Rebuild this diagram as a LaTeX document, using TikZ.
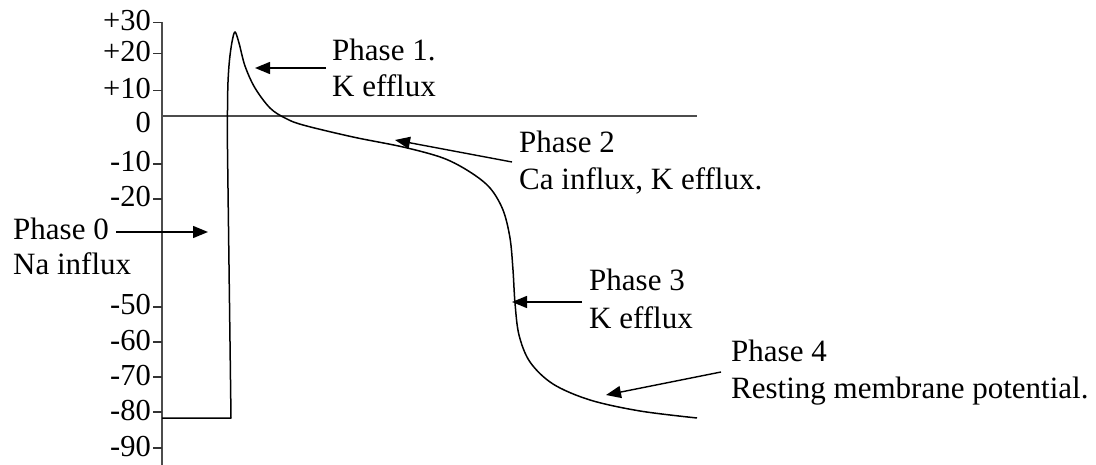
\documentclass[tikz,border=0pt]{standalone}
\usepackage{fontspec}
\setmainfont{Liberation Serif}
\usetikzlibrary{arrows.meta}
\begin{document}
\begin{tikzpicture}[x=1pt,y=-1pt,
  txt/.style={inner sep=0pt, anchor=base west, font=\fontsize{31}{37}\selectfont},
  ticklbl/.style={inner sep=0pt, anchor=base east, font=\fontsize{30.5}{36}\selectfont},
  axisline/.style={draw=black!70, line width=1.4pt},
  tickmark/.style={draw=black!80, line width=1.3pt},
  trace/.style={draw=black, line width=1.5pt, line join=round},
  ptr/.style={draw=black, line width=1.4pt, -{Triangle[length=15pt,width=12pt]}}]
\useasboundingbox (0,0) rectangle (1096,465);

% voltage axis and zero line
\draw[axisline] (162,22) -- (162,465);
\draw[axisline] (162,116) -- (697,116);

% tick marks and their values (mV)
\foreach \v/\y in {+30/22.7,+20/53.3,+10/90.7,-10/164,-20/199,-50/307,-60/342,-70/377,-80/412,-90/448}{
  \draw[tickmark] (153,\y) -- (162,\y);
  \node[ticklbl] at (151,\y+8) {\v};
}
\node[ticklbl] at (151,133) {0};

% action potential trace
\draw[trace] (162,418) -- (231,418) -- (227.5,150)
  -- plot[smooth,tension=0.55] coordinates {(227.5,150) (227.5,110) (228,82) (229.5,60) (232,42) (235,32) (239,43) (245,66) (255,88) (270,108) (285,118) (303,125) (353,137) (403,147) (443,158) (470,172) (490,188) (503,210) (510,238) (513,270) (515,303) (519,335) (530,362) (553,384) (590,400) (640,411) (697,418)};

% phase labels
\node[txt] (p0a) at (13,240) {Phase 0};
\node[txt] (p0b) at (13,275) {Na influx};
\node[txt] (p1a) at (332,61) {Phase 1.};
\node[txt] (p1b) at (332,97) {K efflux};
\node[txt] (p2a) at (519,153) {Phase 2};
\node[txt] (p2b) at (519,190) {Ca influx, K efflux.};
\node[txt] (p3a) at (589,291) {Phase 3};
\node[txt] (p3b) at (589,328) {K efflux};
\node[txt] (p4a) at (731,361) {Phase 4};
\node[txt] (p4b) at (731,398) {Resting membrane potential.};

% pointer ends
\coordinate (t0) at (116,232);  \coordinate (h0) at (208,232);
\coordinate (t1) at (326,68);   \coordinate (h1) at (255,68);
\coordinate (t2) at (512,162);  \coordinate (h2) at (395,140);
\coordinate (t3) at (582,302);  \coordinate (h3) at (512,302);
\coordinate (t4) at (721,372);  \coordinate (h4) at (606,395);

\draw[ptr] (t0) -- (h0);
\draw[ptr] (t1) -- (h1);
\draw[ptr] (t2) -- (h2);
\draw[ptr] (t3) -- (h3);
\draw[ptr] (t4) -- (h4);
\end{tikzpicture}
\end{document}
